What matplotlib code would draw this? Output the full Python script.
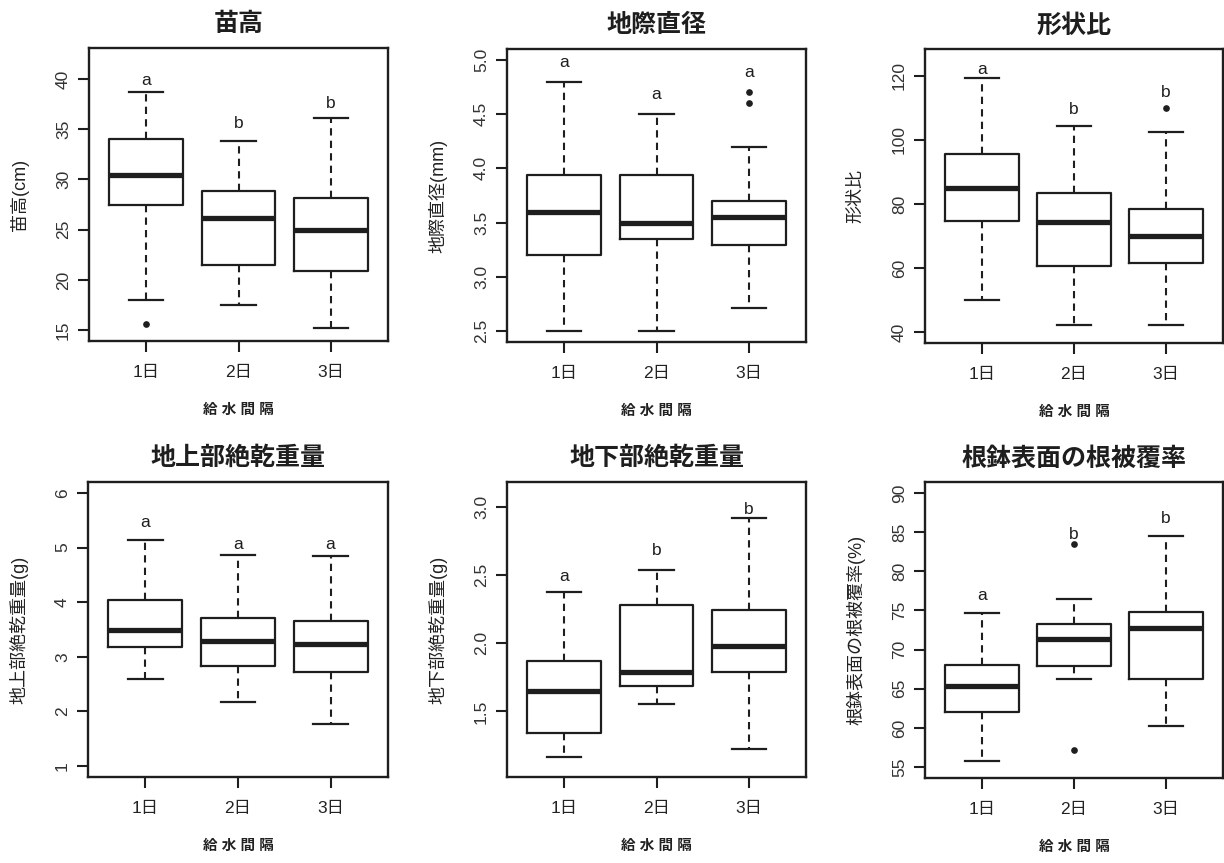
import matplotlib
matplotlib.use("Agg")
import matplotlib.pyplot as plt
import numpy as np

plt.rcParams['font.family'] = ['Liberation Sans', 'Noto Sans CJK JP', 'DejaVu Sans']

# ---------------- data ----------------
groups = ["1日", "2日", "3日"]
xlabel_text = "給 水 間 隔"

titles = ["苗高", "地際直径", "形状比", "地上部絶乾重量", "地下部絶乾重量", "根鉢表面の根被覆率"]
ylabels = ["苗高(cm)", "地際直径(mm)", "形状比", "地上部絶乾重量(g)", "地下部絶乾重量(g)", "根鉢表面の根被覆率(%)"]

# 苗高
h_med = [30.4, 26.2, 25.0]
h_q1 = [27.45, 21.5, 20.9]
h_q3 = [34.0, 28.85, 28.15]
h_lo = [18.05, 17.5, 15.2]
h_hi = [38.75, 33.8, 36.15]
h_fliers = [[15.65], [], []]
h_letters = ["a", "b", "b"]
h_letter_y = [39.8, 35.6, 37.6]

# 地際直径
d_med = [3.6, 3.5, 3.55]
d_q1 = [3.2, 3.35, 3.29]
d_q3 = [3.94, 3.94, 3.695]
d_lo = [2.5, 2.5, 2.71]
d_hi = [4.8, 4.5, 4.2]
d_fliers = [[], [], [4.7, 4.6]]
d_letters = ["a", "a", "a"]
d_letter_y = [4.98, 4.68, 4.88]

# 形状比
r_med = [85.0, 74.5, 70.0]
r_q1 = [74.7, 60.7, 61.65]
r_q3 = [95.7, 83.4, 78.4]
r_lo = [50.1, 42.1, 42.1]
r_hi = [119.3, 104.4, 102.4]
r_fliers = [[], [], [110.1]]
r_letters = ["a", "b", "b"]
r_letter_y = [122.1, 109.5, 114.8]

# 地上部絶乾重量
a_med = [3.5, 3.29, 3.23]
a_q1 = [3.18, 2.825, 2.715]
a_q3 = [4.04, 3.71, 3.65]
a_lo = [2.59, 2.17, 1.77]
a_hi = [5.13, 4.87, 4.84]
a_fliers = [[], [], []]
a_letters = ["a", "a", "a"]
a_letter_y = [5.45, 5.05, 5.05]

# 地下部絶乾重量
b_med = [1.65, 1.79, 1.98]
b_q1 = [1.34, 1.683, 1.79]
b_q3 = [1.866, 2.28, 2.24]
b_lo = [1.166, 1.556, 1.224]
b_hi = [2.378, 2.537, 2.915]
b_fliers = [[], [], []]
b_letters = ["a", "b", "b"]
b_letter_y = [2.49, 2.68, 2.98]

# 根鉢表面の根被覆率
c_med = [65.3, 71.3, 72.7]
c_q1 = [62.05, 67.85, 66.3]
c_q3 = [68.0, 73.3, 74.85]
c_lo = [55.8, 66.3, 60.25]
c_hi = [74.65, 76.5, 84.45]
c_fliers = [[], [83.45, 57.2], []]
c_letters = ["a", "b", "b"]
c_letter_y = [76.9, 84.7, 86.7]

panels = [
    (h_med, h_q1, h_q3, h_lo, h_hi, h_fliers, h_letters, h_letter_y),
    (d_med, d_q1, d_q3, d_lo, d_hi, d_fliers, d_letters, d_letter_y),
    (r_med, r_q1, r_q3, r_lo, r_hi, r_fliers, r_letters, r_letter_y),
    (a_med, a_q1, a_q3, a_lo, a_hi, a_fliers, a_letters, a_letter_y),
    (b_med, b_q1, b_q3, b_lo, b_hi, b_fliers, b_letters, b_letter_y),
    (c_med, c_q1, c_q3, c_lo, c_hi, c_fliers, c_letters, c_letter_y),
]

yticks = [
    [15, 20, 25, 30, 35, 40],
    [2.5, 3.0, 3.5, 4.0, 4.5, 5.0],
    [40, 60, 80, 100, 120],
    [1, 2, 3, 4, 5, 6],
    [1.5, 2.0, 2.5, 3.0],
    [55, 60, 65, 70, 75, 80, 85, 90],
]
ytick_fmt = ["{:.0f}", "{:.1f}", "{:.0f}", "{:.0f}", "{:.1f}", "{:.0f}"]
ylims = [(13.92, 43.08), (2.4, 5.1), (36.6, 128.4), (0.8, 6.2), (1.02, 3.18), (53.6, 91.4)]

# ---------------- layout (pixels) ----------------
W, H = 1224, 863
rects_px = [
    (89, 48, 388, 341),
    (507, 49, 806, 342),
    (925, 49, 1223, 343),
    (88, 482, 388, 777),
    (507, 482, 806, 777),
    (925, 482, 1223, 778),
]

ink = "#1e1e1e"
fig = plt.figure(figsize=(W / 100, H / 100), dpi=100)
fig.patch.set_facecolor("white")

positions = [1, 2, 3]
for i, (rect, data) in enumerate(zip(rects_px, panels)):
    x0, y0, x1, y1 = rect
    ax = fig.add_axes([x0 / W, 1 - y1 / H, (x1 - x0) / W, (y1 - y0) / H])
    med, q1, q3, lo, hi, fl, letters, ly = data
    stats = []
    for k in range(3):
        stats.append(dict(med=med[k], q1=q1[k], q3=q3[k], whislo=lo[k], whishi=hi[k],
                          fliers=np.array(fl[k]), label=groups[k]))
    ax.bxp(stats, positions=positions, widths=0.8, capwidths=0.37, showfliers=True,
           boxprops=dict(color=ink, linewidth=1.6),
           medianprops=dict(color=ink, linewidth=3.8, solid_capstyle="butt"),
           whiskerprops=dict(color=ink, linewidth=1.5, linestyle=(0, (3.5, 2.5))),
           capprops=dict(color=ink, linewidth=1.6),
           flierprops=dict(marker="o", markersize=3.8, markerfacecolor=ink,
                           markeredgecolor=ink, linestyle="none"))
    for k in range(3):
        ax.text(positions[k], ly[k], letters[k], ha="center", va="center",
                fontsize=12.5, color=ink)
    ax.set_xlim(0.38, 3.62)
    ax.set_ylim(*ylims[i])
    ax.set_yticks(yticks[i])
    ax.set_yticklabels([ytick_fmt[i].format(v) for v in yticks[i]], rotation=90,
                       va="center", ha="right", fontsize=12.5, color="#333333")
    ax.set_xticks(positions)
    ax.set_xticklabels(groups, fontsize=12.5, color="#222222")
    ax.tick_params(axis="both", length=8, width=1.5, color=ink)
    ax.tick_params(axis="x", pad=9)
    ax.tick_params(axis="y", pad=5)
    for s in ax.spines.values():
        s.set_linewidth(1.7)
        s.set_color(ink)
    ax.set_title(titles[i], fontsize=18, fontweight="bold", color=ink, pad=12)
    ax.set_ylabel(ylabels[i], fontsize=13, color="#222222")
    ax.yaxis.set_label_coords(-69 / (x1 - x0), 0.5)
    ax.set_xlabel(xlabel_text, fontsize=10.5, color="#222222", fontweight="bold")
    ax.xaxis.set_label_coords(0.5, -69 / (y1 - y0))
    ax.xaxis.label.set_va("center")
    ax.yaxis.label.set_va("center")

fig.savefig("out.png", dpi=100, facecolor="white")
